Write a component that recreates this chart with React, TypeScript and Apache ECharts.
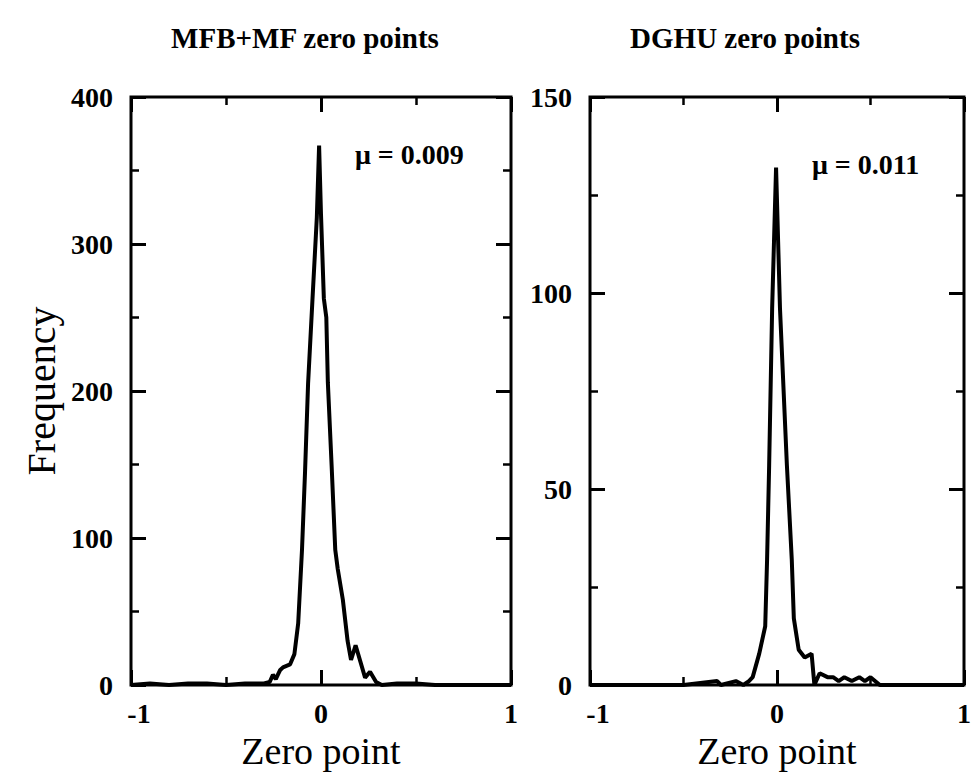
import React, { useEffect, useRef } from "react";
import * as echarts from "echarts";

const panelTitles = ["MFB+MF zero points", "DGHU zero points"];
const meanLabels = ["\u03BC = 0.009", "\u03BC = 0.011"];
const xTicks = [-1, 0, 1];

const mfbZero = [-1, -0.9, -0.8, -0.7, -0.6, -0.5, -0.4, -0.3, -0.27, -0.253, -0.238, -0.216, -0.2, -0.163, -0.14, -0.12, -0.1, -0.084, -0.068, -0.045, -0.022, -0.01, 0, 0.015, 0.028, 0.036, 0.056, 0.075, 0.088, 0.115, 0.14, 0.158, 0.182, 0.232, 0.258, 0.29, 0.32, 0.4, 0.5, 0.6, 0.8, 1];
const mfbFreq = [0, 1, 0, 1, 1, 0, 1, 1, 2, 7, 4, 10, 12, 14, 21, 42, 92, 145, 205, 262, 318, 367, 320, 263, 250, 206, 149, 92, 79, 58, 30, 17, 27, 5, 9, 2, 0, 1, 1, 0, 0, 0];

const dghuZero = [-1, -0.7, -0.5, -0.32, -0.3, -0.22, -0.18, -0.15, -0.13, -0.095, -0.063, -0.053, -0.042, -0.026, -0.005, 0.016, 0.053, 0.079, 0.09, 0.116, 0.148, 0.185, 0.2, 0.228, 0.27, 0.3, 0.33, 0.36, 0.4, 0.44, 0.47, 0.5, 0.55, 0.7, 1];
const dghuFreq = [0, 0, 0, 1, 0, 1, 0, 1, 2, 8, 15, 32, 56, 96, 132, 96, 56, 32, 17, 9, 7, 8, 0, 3, 2, 2, 1, 2, 1, 2, 1, 2, 0, 0, 0];

const yMax = [400, 150];
const yStep = [100, 50];

const FONT = "'Liberation Serif', 'Times New Roman', serif";

export default function App() {
  const ref = useRef<HTMLDivElement>(null);
  useEffect(() => {
    document.body.style.margin = "0";
    const chart = echarts.init(ref.current!, null, { renderer: "svg" });
    const grids = [
      { left: 131, top: 97, width: 380, height: 588 },
      { left: 590, top: 97, width: 378, height: 588 },
    ];
    const tickLine = { color: "#000", width: 3 };
    const minorLine = { color: "#000", width: 2.5 };
    const xLabel = {
      fontFamily: FONT,
      fontWeight: "bold",
      fontSize: 28,
      color: "#000",
      margin: 14,
      formatter: (v: number) => (v < 0 ? "{n|" + String(v) + "}" : String(v)),
      rich: { n: { fontFamily: FONT, fontWeight: "bold", fontSize: 28, color: "#000", padding: [0, 0, 0, 16] } },
      customValues: xTicks,
    };
    const xAxes: any[] = [];
    const yAxes: any[] = [];
    [0, 1].forEach((g) => {
      const base = {
        type: "value",
        gridIndex: g,
        min: -1,
        max: 1,
        interval: 1,
        splitLine: { show: false },
        axisLine: { show: false, onZero: false },
        axisTick: { show: true, inside: true, length: 15, lineStyle: tickLine },
        minorTick: { show: true, splitNumber: 2, length: 8, lineStyle: minorLine },
      };
      xAxes.push({
        ...base,
        position: "bottom",
        axisLabel: { ...xLabel },
        name: "Zero point",
        nameLocation: "middle",
        nameGap: 35,
        nameTextStyle: { fontFamily: FONT, fontSize: 38, color: "#000" },
      });
      xAxes.push({ ...base, position: "top", axisLabel: { show: false } });
      const ybase = {
        type: "value",
        gridIndex: g,
        min: 0,
        max: yMax[g],
        interval: yStep[g],
        splitLine: { show: false },
        axisLine: { show: false, onZero: false },
        axisTick: { show: true, inside: true, length: 15, lineStyle: tickLine },
        minorTick: { show: true, splitNumber: 2, length: 8, lineStyle: minorLine },
      };
      yAxes.push({
        ...ybase,
        position: "left",
        axisLabel: { fontFamily: FONT, fontWeight: "bold", fontSize: 28, color: "#000", margin: 18 },
        ...(g === 0
          ? {
              name: "Frequency",
              nameLocation: "middle",
              nameGap: 70,
              nameTextStyle: { fontFamily: FONT, fontSize: 40, color: "#000" },
            }
          : {}),
      });
      yAxes.push({ ...ybase, position: "right", axisLabel: { show: false } });
    });
    const toPairs = (xs: number[], ys: number[]) => xs.map((x, i) => [x, ys[i]]);
    chart.setOption({
      animation: false,
      backgroundColor: "#fff",
      title: [
        { text: panelTitles[0], left: 300, top: 18, textAlign: "center", textStyle: { fontFamily: FONT, fontWeight: "bold", fontSize: 29, color: "#000" } },
        { text: panelTitles[1], left: 740, top: 18, textAlign: "center", textStyle: { fontFamily: FONT, fontWeight: "bold", fontSize: 29, color: "#000" } },
      ],
      grid: grids.map((g) => ({ ...g, show: true, borderColor: "#000", borderWidth: 3, backgroundColor: "transparent" })),
      xAxis: xAxes,
      yAxis: yAxes,
      graphic: [
        { type: "text", left: 355, top: 140, style: { text: meanLabels[0], font: "bold 28px " + FONT, fill: "#000" } },
        { type: "text", left: 812, top: 150, style: { text: meanLabels[1], font: "bold 28px " + FONT, fill: "#000" } },
      ],
      series: [
        {
          type: "line",
          xAxisIndex: 0,
          yAxisIndex: 0,
          data: toPairs(mfbZero, mfbFreq),
          showSymbol: false,
          lineStyle: { color: "#000", width: 4 },
          z: 5,
        },
        {
          type: "line",
          xAxisIndex: 2,
          yAxisIndex: 2,
          data: toPairs(dghuZero, dghuFreq),
          showSymbol: false,
          lineStyle: { color: "#000", width: 4 },
          z: 5,
        },
      ],
    });
    return () => chart.dispose();
  }, []);
  return <div ref={ref} style={{ width: 974, height: 777 }} />;
}
